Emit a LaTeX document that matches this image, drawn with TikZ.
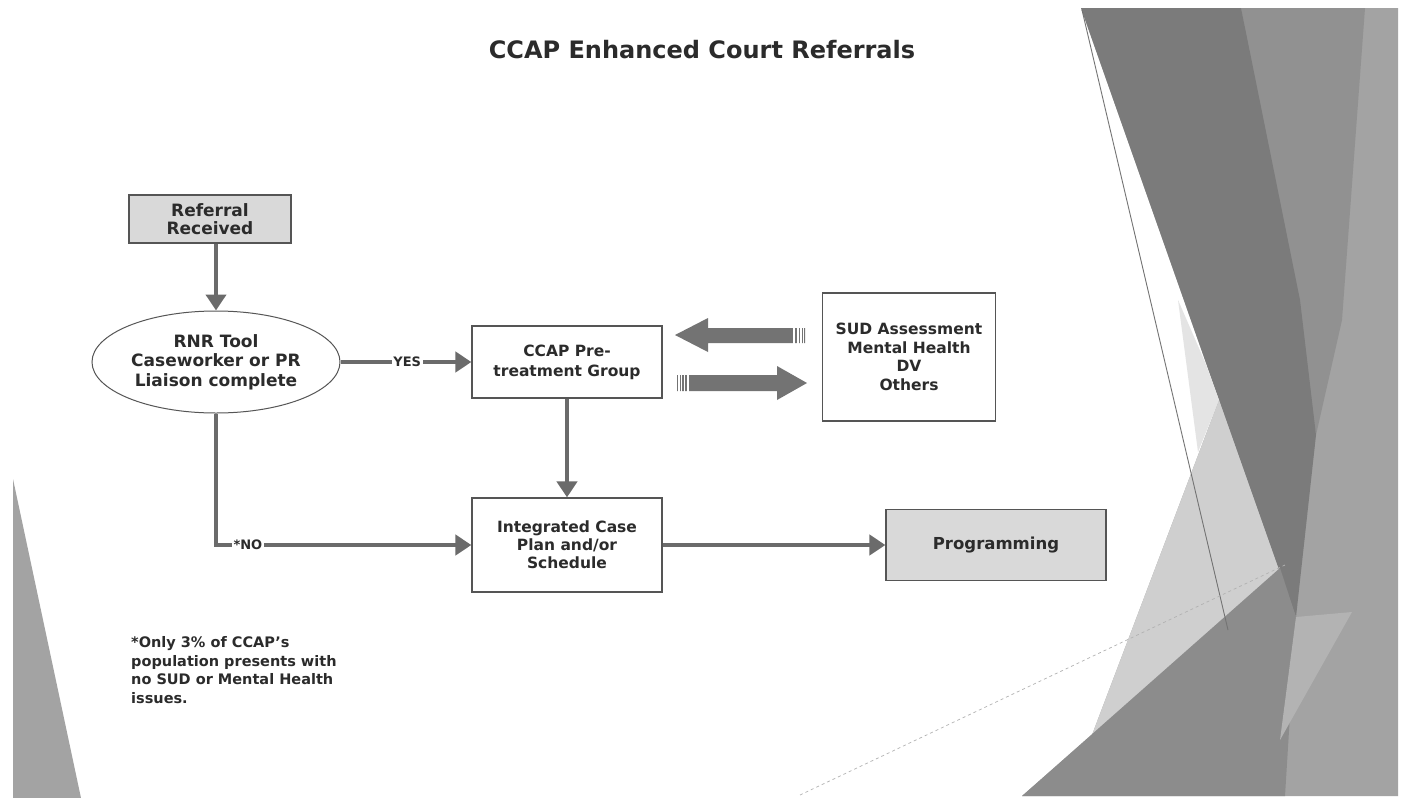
\documentclass[tikz,border=0pt]{standalone}
\usepackage{fontspec}
\setmainfont{DejaVu Sans}
\usetikzlibrary{arrows.meta,shapes.geometric}
\definecolor{txt}{HTML}{2B2B2B}
\definecolor{conncol}{HTML}{6B6B6B}
\definecolor{boxline}{HTML}{555555}
\definecolor{boxfill}{HTML}{D9D9D9}
\definecolor{bgbase}{HTML}{A3A3A3}
\definecolor{bgmid}{HTML}{919191}
\definecolor{bgdark}{HTML}{7B7B7B}
\definecolor{bglight}{HTML}{CFCFCF}
\definecolor{bgpale}{HTML}{E4E4E4}
\definecolor{bglow}{HTML}{8C8C8C}
\definecolor{bgwedge}{HTML}{B3B3B3}
\definecolor{blockcol}{HTML}{737373}
\tikzset{
  box/.style={draw=boxline, line width=1.2pt, fill=white, align=center, text=txt, inner sep=2pt},
  graybox/.style={box, fill=boxfill},
  conn/.style={draw=conncol, line width=4.5pt, -{Triangle[length=16pt,width=20pt]}},
  lbl/.style={fill=white, text=txt, inner sep=1.5pt, font=\bfseries\fontsize{13}{15}\selectfont},
  blockarrow/.style={fill=blockcol, draw=none},
  stripe/.style={draw=white, line width=1.1pt}
}
\begin{document}
\begin{tikzpicture}[x=1pt,y=-1pt]
\useasboundingbox (0,0) rectangle (1406,798);
\fill[white] (0,0) rectangle (1406,798);
% background shapes
\fill[bgbase] (1081,8) -- (1398,8) -- (1398,796) -- (1022,796) -- (1092,735) -- (1219,400) -- cycle;
\fill[bgmid] (1241,8) -- (1365,8) -- (1342,320) -- (1316,435) -- (1296,300) -- cycle;
\fill[bgdark] (1081,8) -- (1241,8) -- (1300,300) -- (1316,435) -- (1296,617) -- (1279,570) -- cycle;
\fill[bgpale] (1178,300) -- (1205,362) -- (1219,400) -- (1198,452) -- cycle;
\fill[bglight] (1219,400) -- (1279,570) -- (1092,735) -- cycle;
\fill[bglow] (1022,796) -- (1280,568) -- (1296,617) -- (1285,796) -- cycle;
\fill[bgwedge] (1296,617) -- (1352,612) -- (1280,740) -- cycle;
\draw[black!55, line width=0.9pt] (1082,10) -- (1228,630);
\draw[black!30, line width=0.7pt, dashed] (800,795) -- (1285,565);
\fill[bgbase] (13,479) -- (13,798) -- (81,798) -- cycle;

% title
\node[text=txt, font=\bfseries\fontsize{24}{28}\selectfont] (title) at (702,50) {CCAP Enhanced Court Referrals};

% nodes
\node[graybox, minimum width=162pt, minimum height=48pt, font=\bfseries\fontsize{17}{18}\selectfont] (ref) at (210,219) {Referral\\Received};
\node[ellipse, draw=boxline, line width=1pt, fill=white, text=txt, align=center, inner sep=0pt,
      minimum width=248pt, minimum height=102pt, font=\bfseries\fontsize{17}{19.5}\selectfont] (rnr) at (216,362) {RNR Tool\\Caseworker or PR\\Liaison complete};
\node[box, minimum width=190pt, minimum height=72pt, font=\bfseries\fontsize{15.5}{20}\selectfont] (pre) at (567,362) {CCAP Pre-\\treatment Group};
\node[box, minimum width=173pt, minimum height=128pt, font=\bfseries\fontsize{15.5}{18.5}\selectfont] (sud) at (909,357) {SUD Assessment\\Mental Health\\DV\\Others};
\node[box, minimum width=190pt, minimum height=94pt, font=\bfseries\fontsize{15.5}{18}\selectfont] (integ) at (567,545) {Integrated Case\\Plan and/or\\Schedule};
\node[graybox, minimum width=220pt, minimum height=71pt, font=\bfseries\fontsize{16.5}{19}\selectfont] (prog) at (996,545) {Programming};

\node[anchor=west, align=left, text=txt, inner sep=0pt, font=\bfseries\fontsize{14.5}{18.5}\selectfont] (note) at (131,670) {*Only 3\% of CCAP's\\population presents with\\no SUD or Mental Health\\issues.};

% connectors
\draw[conn] (rnr.north |- ref.south) -- (rnr.north);
\draw[conn] (rnr.east) -- (pre.west) node[lbl, pos=0.51] {YES};
\draw[conn] (pre.south) -- (integ.north);
\draw[conn] (rnr.south) |- (integ.west) node[lbl, pos=0.5625] {*NO};
\draw[conn] (integ.east) -- (prog.west);

% block arrows between pre and sud
\fill[blockarrow] (675,335) -- (708,318) -- (708,328) -- (805,328) -- (805,343) -- (708,343) -- (708,352) -- cycle;
\fill[blockarrow] (677,375) -- (777,375) -- (777,366) -- (807,383) -- (777,400) -- (777,391) -- (677,391) -- cycle;
\foreach \sx in {794,798,801,803.5} {\draw[stripe] (\sx,327) -- (\sx,344);}
\foreach \sx in {679,681.5,684.5,688} {\draw[stripe] (\sx,374) -- (\sx,392);}
\end{tikzpicture}
\end{document}
